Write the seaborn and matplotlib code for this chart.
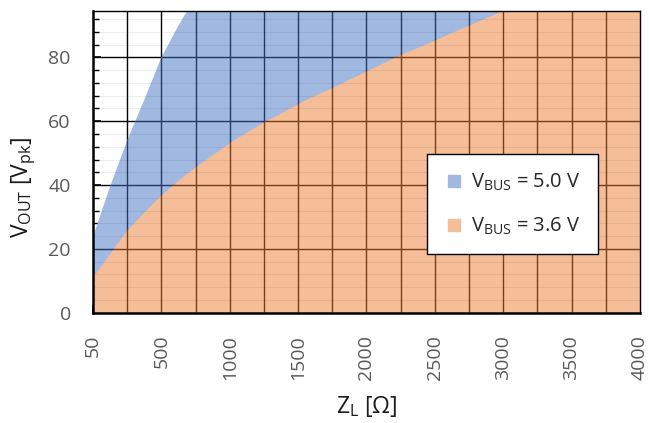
#VOUT vs ZL areas for the two bus voltages
import numpy as np
import matplotlib
matplotlib.use('Agg')
import matplotlib.pyplot as plt
import seaborn as sns
from matplotlib.lines import Line2D

#load impedance categories (equally spaced like an Excel category axis)
zl = [50, 150, 250, 375, 500, 625, 750, 875, 1000, 1125, 1250, 1375, 1500, 1625, 1750, 1875,
      2000, 2125, 2250, 2375, 2500, 2625, 2750, 2875, 3000, 3125, 3250, 3375, 3500, 3625, 3750, 3875, 4000]
tick_labels = ['50', '500', '1000', '1500', '2000', '2500', '3000', '3500', '4000']

#max output voltage (above 95 is clipped anyway)
v_36 = [11.3, 18.7, 26.0, 31.7, 37.0, 41.6, 45.8, 49.6, 53.3, 56.7, 59.8, 62.6, 65.6, 68.2, 70.6, 73.2,
        75.8, 78.4, 81.0, 83.2, 85.5, 87.9, 90.2, 92.5, 94.8, 97.0, 99.0, 101.0, 103.0, 105.0, 107.0, 109.0, 111.0]
v_50 = [23.8, 39.5, 54.0, 66.7, 80.0, 90.0, 99.0, 106.0, 113.0, 120.0, 126.0, 132.0, 138.0, 143.0, 148.0, 153.0,
        158.0, 163.0, 167.0, 171.0, 176.0, 180.0, 184.0, 188.0, 192.0, 196.0, 200.0, 203.0, 207.0, 210.0, 214.0, 217.0, 221.0]

sns.set_theme(style='white')
plt.rcParams['font.family'] = ['Open Sans', 'DejaVu Sans']
plt.rcParams['mathtext.fontset'] = 'custom'
plt.rcParams['mathtext.rm'] = 'Open Sans'

#Excel blue/orange at 50% transparency over white, and over the black gridlines
blue = '#A1B8E1'
orange = '#F6BE98'
blue_grid = '#223962'
orange_grid = '#773F19'

fig, ax = plt.subplots(figsize=(6.49, 4.23), dpi=100)
fig.subplots_adjust(left=0.1433, right=0.986, top=0.975, bottom=0.261)

idx = np.arange(len(zl))
pb = ax.fill_between(idx, 0, v_50, color=blue, lw=0, zorder=1)
po = ax.fill_between(idx, 0, v_36, color=orange, lw=0, zorder=1.2)

ax.set_xlim(0, len(zl) - 1)
ax.set_ylim(0, 94.7)

#major gridlines: black on white, tinted where the areas lie over them
def grid(color, z, clip=None):
    lines = [ax.axvline(x, color=color, lw=1, zorder=z) for x in idx[2:-1:2]]
    lines += [ax.axhline(y, color=color, lw=1, zorder=z) for y in range(20, 95, 20)]
    if clip is not None:
        for ln in lines:
            ln.set_clip_path(clip.get_paths()[0], ax.transData)

grid('black', 0.5)
grid(blue_grid, 1.1, pb)
grid(orange_grid, 1.3, po)

for y in np.arange(4, 95, 4):
    if y % 20:
        ax.axhline(y, color='black', lw=0.8, alpha=0.07, zorder=2)

ax.set_xticks(idx[::4])
ax.set_xticklabels(tick_labels, rotation=90, va='top')
ax.set_xticks(idx, minor=True)
ax.set_yticks([0, 20, 40, 60, 80])
ax.set_yticks(np.arange(0, 95, 4), minor=True)
ax.tick_params(axis='both', which='major', direction='in', length=6, width=1.2,
               colors='black', labelcolor='#595959', labelsize=14, pad=16)
ax.tick_params(axis='both', which='minor', direction='in', length=4, width=1, colors='black')
ax.tick_params(axis='both', bottom=True, left=True, which='both')

for s in ['left', 'bottom']:
    ax.spines[s].set_color('black')
    ax.spines[s].set_linewidth(1.8)
for s in ['top', 'right']:
    ax.spines[s].set_color('black')
    ax.spines[s].set_linewidth(1)
for s in ax.spines.values():
    s.set_zorder(3)

ax.set_xlabel(r'Z$_{\mathregular{L}}$ [Ω]', fontsize=16.5, color='#1a1a1a')
ax.xaxis.set_label_coords(0.5, -0.27)
ax.set_ylabel(r'V$_{\mathregular{OUT}}$ [V$_{\mathregular{pk}}$]', fontsize=16.5, color='#1a1a1a')
ax.yaxis.set_label_coords(-0.10, 0.416)

handles = [Line2D([], [], marker='s', ls='', markersize=8.5, color=blue),
           Line2D([], [], marker='s', ls='', markersize=8.5, color=orange)]
labels = [r'V$_{\mathregular{BUS}}$ = 5.0 V', r'V$_{\mathregular{BUS}}$ = 3.6 V']
leg = ax.legend(handles, labels, loc='center', bbox_to_anchor=(0.767, 0.358), fontsize=14.5,
                frameon=True, fancybox=False, framealpha=1, edgecolor='black',
                labelspacing=1.15, borderpad=0.85, handletextpad=0.35, handlelength=1.0,
                borderaxespad=0)
leg.get_frame().set_linewidth(1)
leg.set_zorder(5)

fig.savefig('out.png')
